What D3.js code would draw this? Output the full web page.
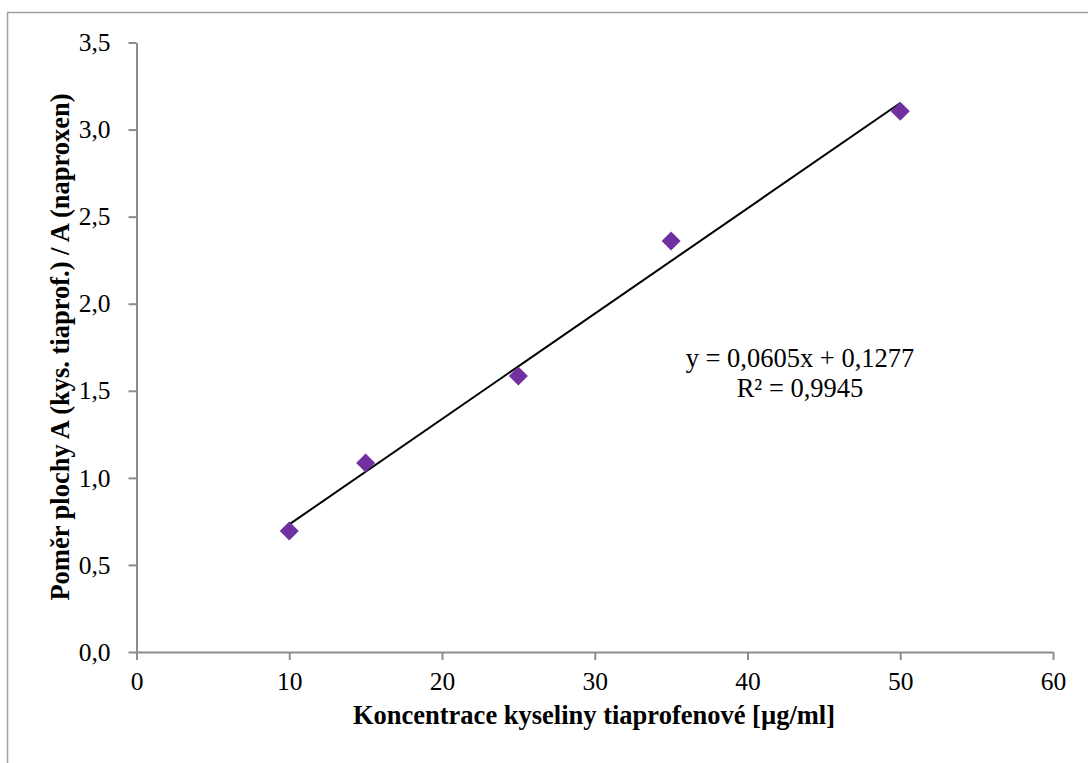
<!DOCTYPE html>
<html>
<head>
<meta charset="utf-8">
<script src="https://cdn.jsdelivr.net/npm/d3@7"></script>
<style>
  body { margin: 0; background: #fff; }
  svg { font-family: 'Liberation Serif', 'Times New Roman', serif; }
  .tick text { font-size: 25.5px; fill: #000; }
  .axis-title { font-size: 26.5px; font-weight: bold; }
</style>
</head>
<body>
<script>
// data
const concentration = [10, 15, 25, 35, 50];
const areaRatio = [0.695, 1.085, 1.585, 2.36, 3.105];
const slope = 0.0605, intercept = 0.1277;
const equationLines = ['y = 0,0605x + 0,1277', 'R² = 0,9945'];
const xTicks = [0, 10, 20, 30, 40, 50, 60];
const yTicks = [0, 0.5, 1, 1.5, 2, 2.5, 3, 3.5];

const width = 1088, height = 763;
const svg = d3.select('body').append('svg')
  .attr('width', width)
  .attr('height', height);

// chart border
svg.append('rect')
  .attr('x', 7.5).attr('y', 12.5)
  .attr('width', width).attr('height', height)
  .attr('fill', 'none')
  .attr('stroke', '#a0a0a0')
  .attr('stroke-width', 1.5);

const xScale = d3.scaleLinear().domain([0, 60]).range([136.5, 1053]);
const yScale = d3.scaleLinear().domain([0, 3.5]).range([652, 42.5]);

const fmt = d => d3.format('.1f')(d).replace('.', ',');

const xAxis = svg.append('g')
  .attr('transform', 'translate(0,' + yScale(0) + ')')
  .call(d3.axisBottom(xScale).tickValues(xTicks).tickSize(8).tickPadding(12).tickSizeOuter(0).tickFormat(d3.format('d')));

const yAxis = svg.append('g')
  .attr('transform', 'translate(' + xScale(0) + ',0)')
  .call(d3.axisLeft(yScale).tickValues(yTicks).tickSize(8).tickPadding(18).tickSizeOuter(0).tickFormat(fmt));

[xAxis, yAxis].forEach(a => {
  a.select('.domain').attr('stroke', '#8c8c8c').attr('stroke-width', 2);
  a.selectAll('.tick line').attr('stroke', '#8c8c8c').attr('stroke-width', 2);
  a.selectAll('.tick text').style('font-family', "'Liberation Serif', serif");
});

// trendline
const xr = d3.extent(concentration);
svg.append('line')
  .attr('x1', xScale(xr[0])).attr('y1', yScale(slope * xr[0] + intercept))
  .attr('x2', xScale(xr[1])).attr('y2', yScale(slope * xr[1] + intercept))
  .attr('stroke', '#000')
  .attr('stroke-width', 2);

// diamond markers
svg.selectAll('path.pt')
  .data(concentration)
  .enter()
  .append('path')
  .attr('class', 'pt')
  .attr('d', 'M0,-9.5L9.5,0L0,9.5L-9.5,0Z')
  .attr('fill', '#7030a0')
  .attr('transform', (d, i) => 'translate(' + xScale(d) + ',' + yScale(areaRatio[i]) + ')');

// equation label
svg.append('text')
  .attr('x', 800).attr('y', 367)
  .attr('text-anchor', 'middle')
  .style('font-size', '26.5px')
  .selectAll('tspan')
  .data(equationLines)
  .enter()
  .append('tspan')
  .attr('x', 800)
  .attr('dy', (d, i) => i ? 30 : 0)
  .text(d => d);

svg.append('text')
  .attr('class', 'axis-title')
  .attr('x', 594).attr('y', 724)
  .attr('text-anchor', 'middle')
  .text('Koncentrace kyseliny tiaprofenové [µg/ml]');

svg.append('text')
  .attr('class', 'axis-title')
  .attr('transform', 'rotate(-90)')
  .attr('x', -347).attr('y', 69)
  .attr('text-anchor', 'middle')
  .text('Poměr plochy A (kys. tiaprof.) / A (naproxen)');
</script>
</body>
</html>
